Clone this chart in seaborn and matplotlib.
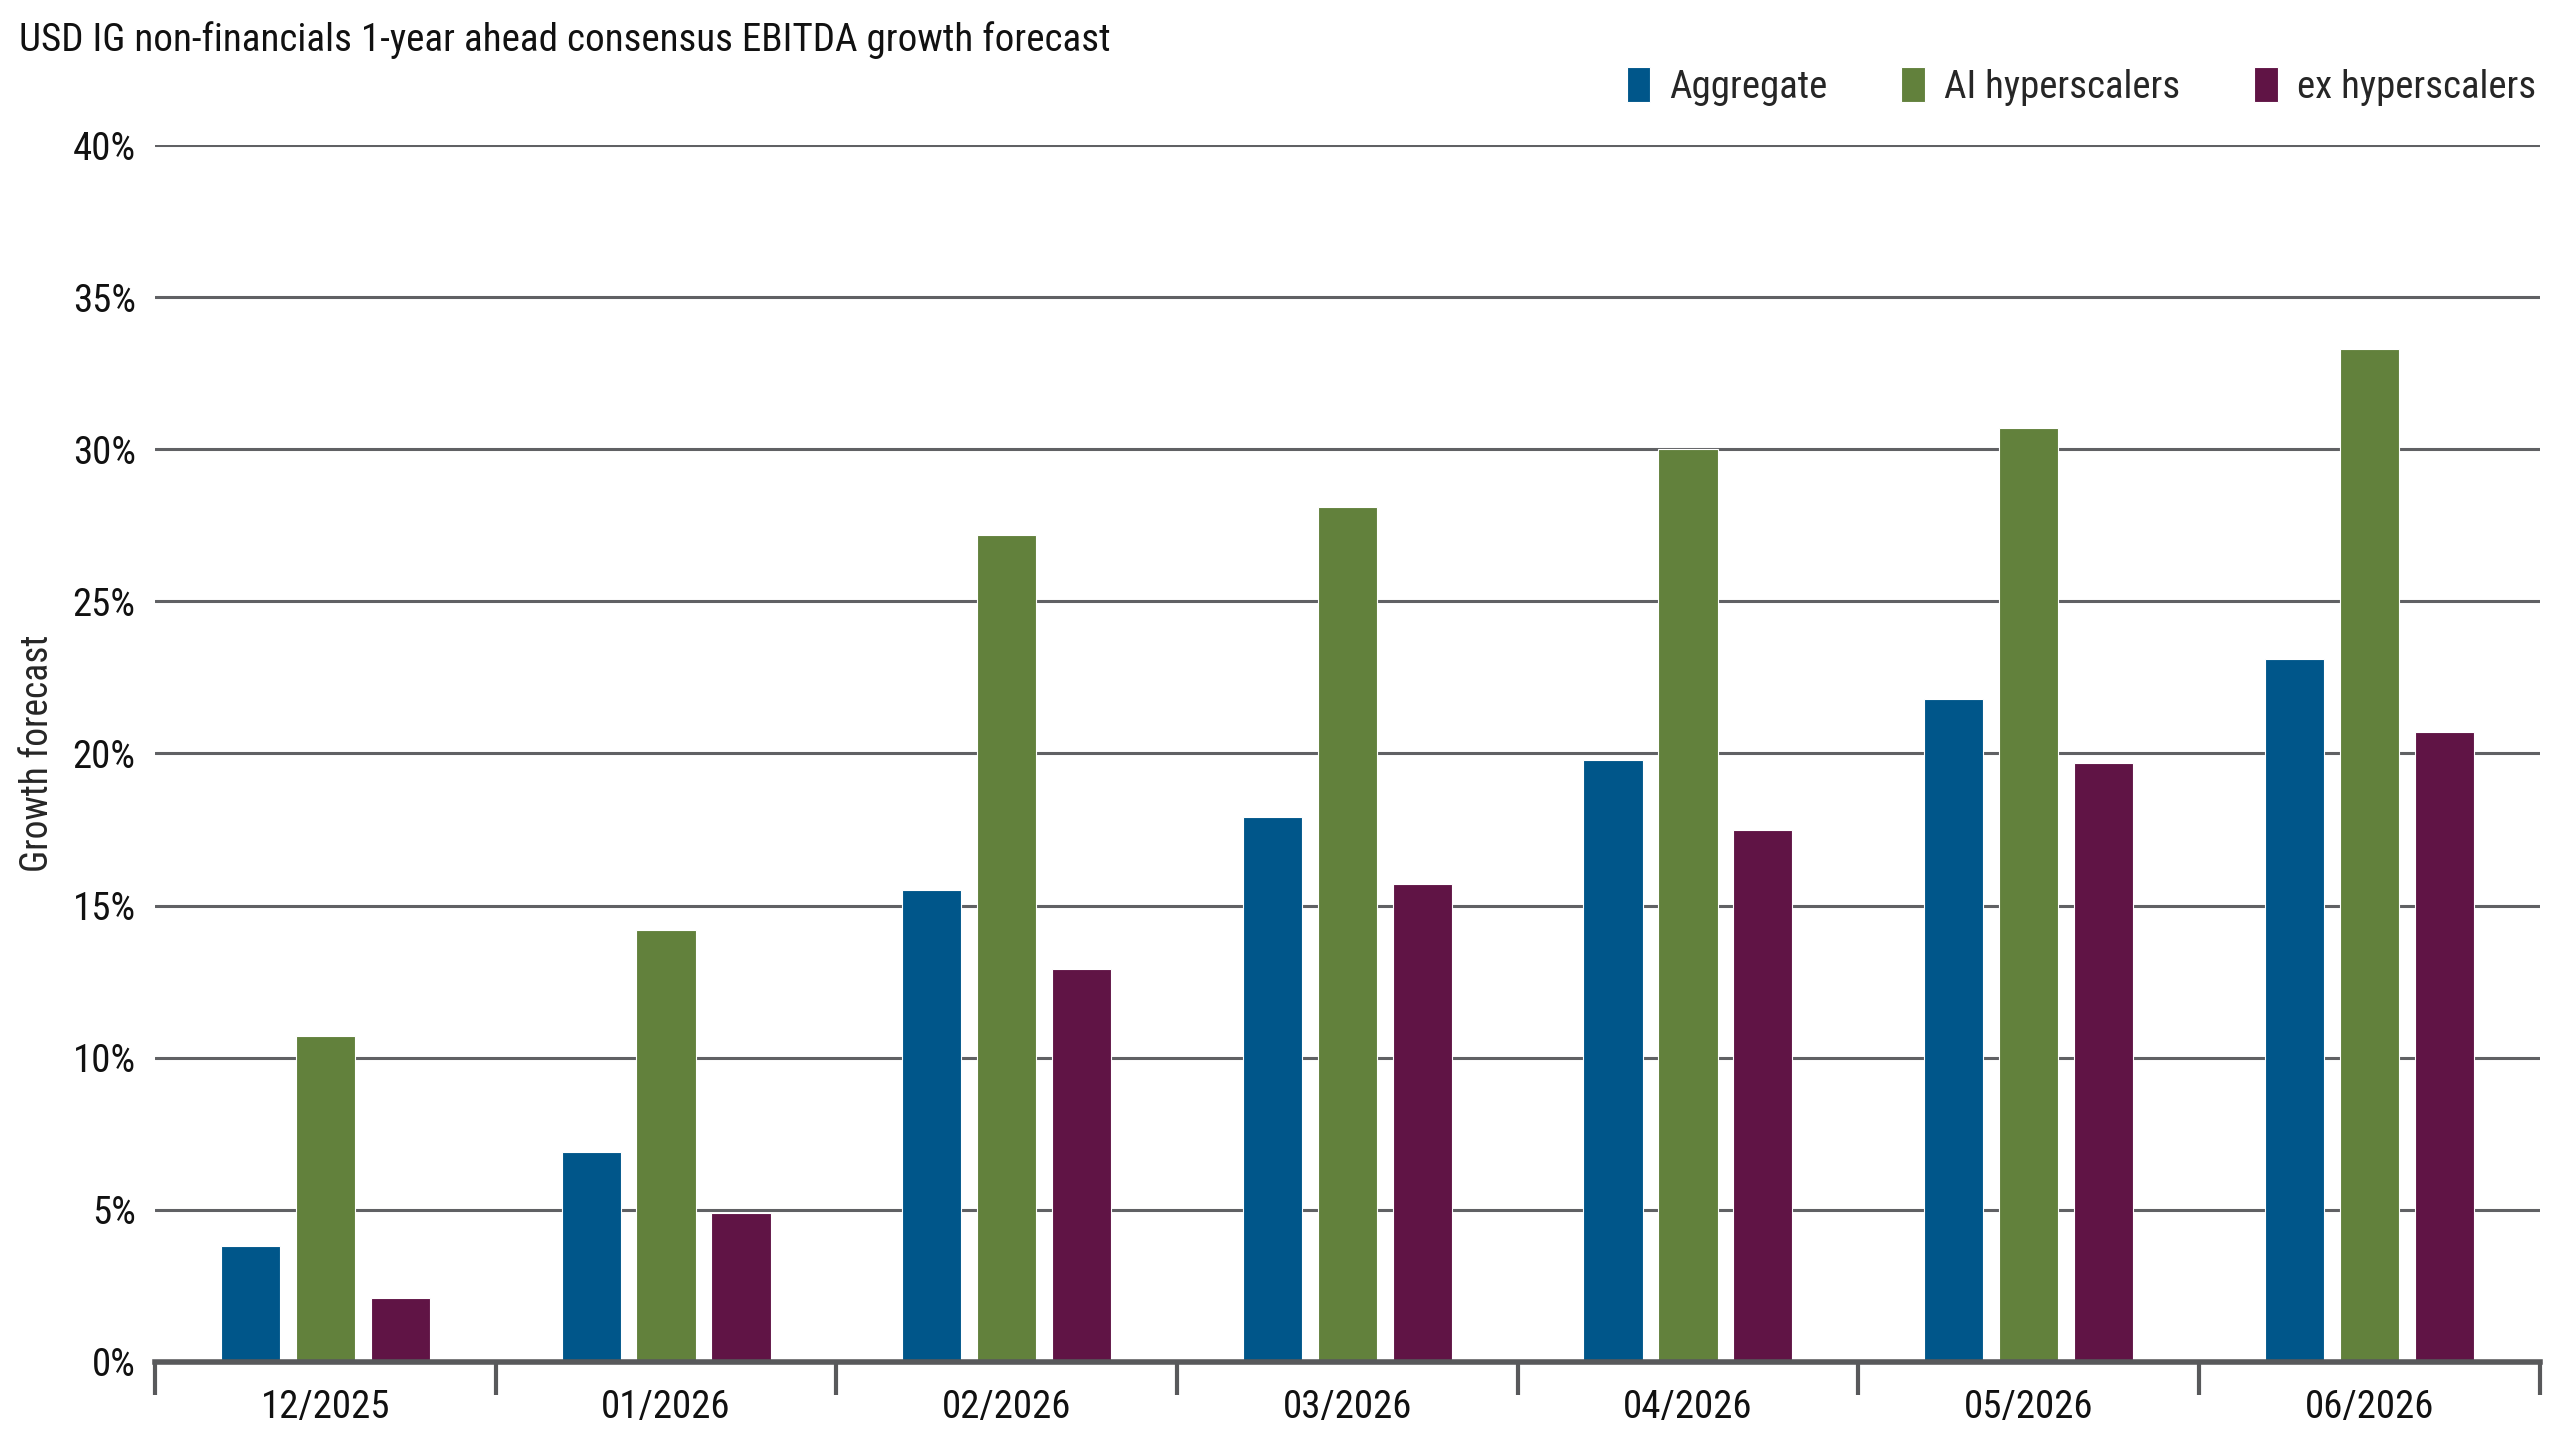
import matplotlib
matplotlib.use("Agg")
import matplotlib.pyplot as plt
from matplotlib import font_manager
from matplotlib.ticker import FixedLocator, PercentFormatter
import seaborn as sns
import pandas as pd

# data (percent)
months = ["12/2025", "01/2026", "02/2026", "03/2026", "04/2026", "05/2026", "06/2026"]
aggregate = [3.8, 6.9, 15.5, 17.9, 19.8, 21.8, 23.1]
ai_hyperscalers = [10.7, 14.2, 27.2, 28.1, 30.0, 30.7, 33.3]
ex_hyperscalers = [2.1, 4.9, 12.9, 15.7, 17.5, 19.7, 20.7]
series_names = ["Aggregate", "AI hyperscalers", "ex hyperscalers"]
colors = ["#00568A", "#62813C", "#601445"]

df = pd.DataFrame({"month": months, series_names[0]: aggregate,
                   series_names[1]: ai_hyperscalers, series_names[2]: ex_hyperscalers})
long_df = df.melt(id_vars="month", var_name="series", value_name="growth")

sns.set_theme(style="white")

# pick a narrow font if one is around
font = "DejaVu Sans"
for cand in ["Liberation Sans Narrow", "Roboto Condensed", "Roboto"]:
    try:
        font_manager.findfont(cand, fallback_to_default=False)
        font = cand
        break
    except Exception:
        pass
plt.rcParams["font.family"] = [font, "DejaVu Sans"]

fig = plt.figure(figsize=(25.6, 14.4), dpi=100)
ax = fig.add_axes([0.0606, 0.0544, 0.9314, 0.8447])

sns.barplot(data=long_df, x="month", y="growth", hue="series", hue_order=series_names,
            palette=colors, width=0.66, gap=0.21, ax=ax, saturation=1, legend=True,
            edgecolor="white", linewidth=0.8)

ax.set_xlim(-0.5, len(months) - 0.5)
ax.set_ylim(0, 40)
ax.set_yticks(range(0, 41, 5))
ax.yaxis.set_major_formatter(PercentFormatter(decimals=0))
ax.grid(axis="y", color="#606164", linewidth=2.2, zorder=0)
ax.set_axisbelow(True)

for side in ["top", "right", "left"]:
    ax.spines[side].set_visible(False)
ax.spines["bottom"].set_color("#58595B")
ax.spines["bottom"].set_linewidth(4)

# long ticks at the group boundaries, labels centred without ticks
ax.xaxis.set_minor_locator(FixedLocator([i - 0.5 for i in range(len(months) + 1)]))
ax.tick_params(axis="x", which="minor", bottom=True, length=24, width=3, color="#58595B",
               direction="out")
ax.tick_params(axis="x", which="major", bottom=True, length=0, pad=20, labelsize=28)
ax.tick_params(axis="y", length=0, pad=14, labelsize=28)
ax.tick_params(axis="both", labelcolor="#111111")

ax.set_xlabel("")
ax.set_ylabel("Growth forecast", fontsize=27, labelpad=12)

fig.text(0.0075, 0.985, "USD IG non-financials 1-year ahead consensus EBITDA growth forecast",
         fontsize=28.2, ha="left", va="top", color="#111111")

ax.legend(title=None, ncol=3, frameon=False, loc="lower right", bbox_to_anchor=(1.01, 1.01),
          fontsize=28, handlelength=0.6, handleheight=1.0, handletextpad=0.5,
          columnspacing=1.9, borderaxespad=0.3)

fig.savefig("out.png", dpi=100)
